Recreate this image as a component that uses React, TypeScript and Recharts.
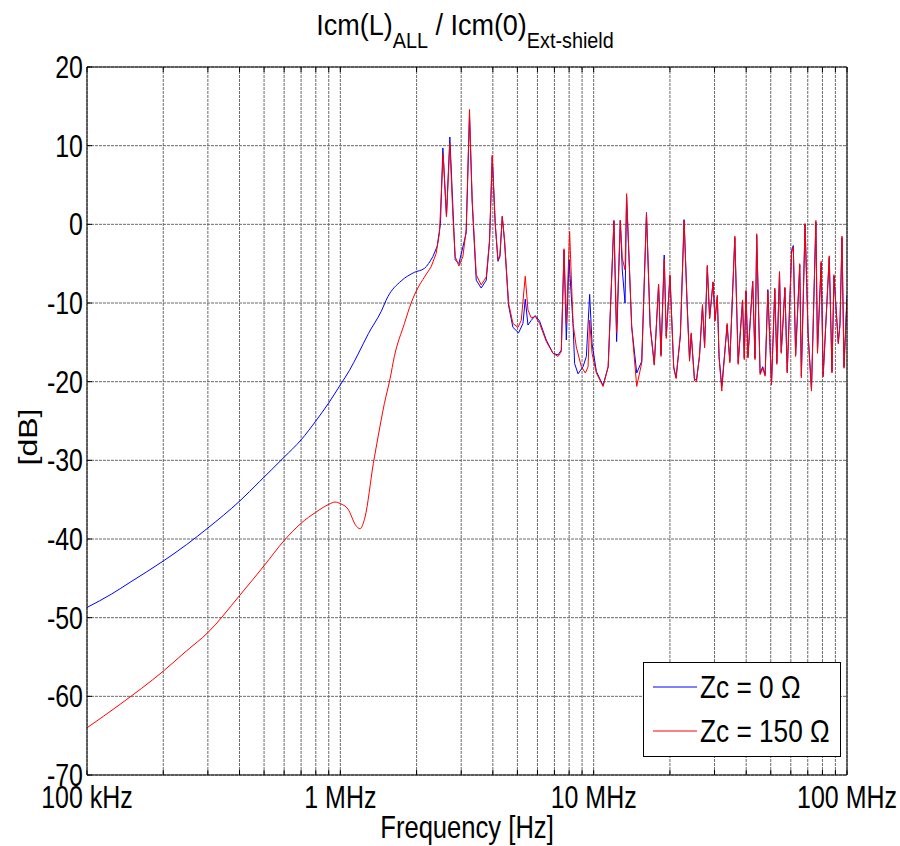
import { LineChart, Line, XAxis, YAxis, CartesianGrid, Legend } from "recharts";

// frequencies in MHz, levels in dB
const blueFreq = [
  0.1, 0.125, 0.148, 0.2, 0.2475, 0.3, 0.4, 0.48, 0.6, 0.7, 0.8, 0.9, 1.0, 1.085, 1.175, 1.29,
  1.448, 1.54, 1.738, 1.961, 2.148, 2.319, 2.411, 2.485, 2.539, 2.624, 2.706, 2.84, 2.938, 3.139,
  3.235, 3.315, 3.439, 3.599, 3.767, 3.881, 3.978, 4.088, 4.19, 4.266, 4.357, 4.449, 4.613, 4.801,
  5.053, 5.259, 5.37, 5.504, 5.672, 5.882, 6.117, 6.502, 6.91, 7.232, 7.452, 7.638, 7.799, 7.993,
  8.289, 8.411, 8.675, 9.08, 9.357, 9.643, 9.856, 10.25, 10.89, 11.41, 12.02, 12.32, 12.74, 12.97,
  13.3, 13.49, 14.13, 14.79, 15.48, 16.16, 16.71, 17.35, 18.04, 18.44, 18.99, 19.34, 20.01, 20.7,
  21.15, 21.99, 22.75, 23.38, 23.9, 24.27, 25.0, 25.46, 26.17, 26.89, 27.41, 28.09, 28.69, 29.59,
  30.14, 30.77, 31.26, 32.04, 33.64, 34.47, 36.08, 37.19, 38.7, 39.31, 39.92, 40.65, 42.44, 43.34,
  44.01, 45.4, 46.49, 47.51, 48.7, 50.35, 51.88, 52.84, 54.15, 55.0, 55.85, 56.87, 58.08, 60.45,
  61.39, 62.69, 65.08, 66.04, 68.31, 70.2, 72.41, 75.37, 76.47, 79.07, 80.52, 85.11, 87.24, 88.84,
  92.39, 93.83, 95.55, 97.3, 100,
];
const blueDb = [
  -48.7, -47.0, -45.5, -42.8, -40.7, -38.6, -35.2, -32.7, -29.6, -27.4, -25.0, -22.7, -20.4, -18.6, -16.5, -13.9,
  -11.1, -9.2, -7.2, -6.1, -5.6, -4.1, -2.8, 0.1, 9.7, 1.0, 11.1, -4.5, -5.0, -1.1,
  13.8, 2.8, -7.1, -8.1, -7.1, -2.2, 8.6, 0.0, -4.7, -4.1, 1.0, -2.2, -10.3, -13.1,
  -13.8, -12.6, -9.5, -12.8, -12.2, -11.6, -12.3, -14.7, -16.4, -16.6, -16.0, -3.3, -14.7, -4.5,
  -12.6, -17.7, -19.0, -18.1, -16.8, -8.9, -15.2, -18.7, -20.5, -18.1, 0.5, -14.9, 0.5, -5.8,
  -10.0, 3.5, -13.0, -18.9, -17.4, 1.5, -13.0, -17.8, -7.7, -16.6, -3.9, -14.2, -6.6, -18.1,
  -19.5, -14.2, 0.6, -10.0, -17.2, -14.0, -19.7, -19.8, -16.8, -10.4, -15.5, -5.4, -11.9, -7.4,
  -12.1, -9.2, -16.8, -20.6, -12.8, -17.4, -1.7, -17.6, -9.7, -17.0, -8.5, -16.8, -7.3, -17.0,
  -1.4, -18.9, -18.1, -19.1, -8.3, -20.2, -8.3, -17.6, -6.2, -16.2, -12.6, -8.1, -18.7, -3.3,
  -2.7, -16.6, -5.2, -19.3, 0.0, -13.8, -21.0, 0.3, -16.2, -4.9, -19.2, -4.2, -18.7, -6.6,
  -15.0, -12.6, -1.7, -18.1, -9.0,
];

const redFreq = [
  0.1, 0.1353, 0.2, 0.2475, 0.3, 0.4, 0.5, 0.6, 0.7, 0.8, 0.9, 0.9535, 1.0, 1.072, 1.153, 1.195, 1.252,
  1.35, 1.413, 1.492, 1.572, 1.634, 1.791, 1.903, 2.022, 2.148, 2.283, 2.389, 2.462, 2.546, 2.624,
  2.706, 2.782, 2.84, 2.938, 3.046, 3.139, 3.235, 3.315, 3.439, 3.599, 3.767, 3.881, 3.978, 4.088,
  4.19, 4.266, 4.357, 4.449, 4.613, 4.801, 5.025, 5.178, 5.37, 5.504, 5.672, 5.882, 6.117, 6.502,
  6.91, 7.232, 7.452, 7.638, 7.799, 8.036, 8.289, 8.542, 8.941, 9.273, 9.504, 9.643, 9.856, 10.25,
  10.89, 11.41, 12.02, 12.32, 12.74, 12.97, 13.3, 13.49, 14.13, 14.79, 15.48, 16.16, 16.71, 17.35,
  18.04, 18.44, 18.99, 19.34, 20.01, 20.7, 21.15, 21.99, 22.75, 23.38, 23.9, 24.27, 25.0, 25.46,
  26.17, 26.89, 27.41, 28.09, 28.69, 29.59, 30.14, 30.77, 31.26, 32.04, 33.64, 34.47, 36.08, 37.19,
  38.7, 39.31, 39.92, 40.65, 42.44, 43.34, 44.01, 45.4, 46.49, 47.51, 48.7, 50.35, 51.88, 52.84,
  54.15, 55.0, 55.85, 56.87, 58.08, 60.45, 61.39, 62.69, 65.08, 66.04, 68.31, 70.2, 72.41, 75.37,
  76.47, 79.07, 80.52, 85.11, 87.24, 88.84, 92.39, 93.83, 95.55, 97.3, 100,
];
const redDb = [
  -64.0, -61.0, -56.8, -54.2, -51.9, -47.2, -43.4, -40.2, -38.0, -36.6, -35.6, -35.3, -35.5, -36.2, -38.3, -38.7, -37.2,
  -30.4, -26.8, -22.8, -19.6, -16.8, -12.6, -10.0, -8.1, -6.7, -5.4, -3.7, -1.1, 9.0, 1.0,
  10.3, 1.0, -4.1, -5.3, -4.1, -0.7, 14.6, 3.1, -6.4, -7.7, -6.7, -2.0, 8.8, 0.1,
  -4.5, -3.9, 1.0, -2.0, -10.0, -12.6, -13.1, -12.2, -6.6, -10.9, -11.9, -11.7, -12.6, -14.9,
  -16.4, -16.8, -16.2, -3.1, -12.6, -0.9, -12.6, -15.6, -18.1, -18.9, -18.1, -12.2, -16.4, -18.9,
  -20.6, -18.1, 0.4, -13.8, 0.5, -4.3, -5.8, 3.9, -13.0, -20.6, -17.6, 1.4, -12.8, -17.9,
  -7.6, -16.8, -4.4, -14.5, -6.4, -18.3, -19.6, -14.0, 0.5, -10.2, -17.4, -13.8, -19.9, -20.0,
  -16.6, -10.2, -15.7, -5.2, -12.0, -7.3, -12.3, -9.0, -17.0, -21.2, -12.6, -17.6, -1.5, -17.8,
  -9.6, -17.2, -8.4, -17.0, -7.2, -17.2, -1.2, -19.1, -18.3, -19.3, -8.5, -20.4, -8.1, -17.8,
  -6.0, -16.4, -12.8, -8.0, -18.9, -3.6, -2.9, -16.8, -5.0, -19.5, 0.1, -14.0, -21.2, 0.5,
  -16.4, -4.7, -19.4, -4.0, -18.9, -6.4, -15.2, -12.8, -1.5, -18.3, -9.5,
];

// below these frequencies the curves are smooth, above they are resonant spikes
const blueSmoothEnd = 2.319;
const redSmoothEnd = 2.283;

const freqTicks = [
  0.1, 0.2, 0.3, 0.4, 0.5, 0.6, 0.7, 0.8, 0.9,
  1, 2, 3, 4, 5, 6, 7, 8, 9,
  10, 20, 30, 40, 50, 60, 70, 80, 90, 100,
];
const decades = [0.1, 1, 10, 100];
const decadeLabels = ["100 kHz", "1 MHz", "10 MHz", "100 MHz"];
const dbTicks = [-70, -60, -50, -40, -30, -20, -10, 0, 10, 20];

const seriesNames = ["Zc = 0 \u03A9", "Zc = 150 \u03A9"];

const blueData = blueFreq.map((f, i) => ({ f, db: blueDb[i] }));
const redData = redFreq.map((f, i) => ({ f, db: redDb[i] }));
const blueSmooth = blueData.filter((d) => d.f <= blueSmoothEnd);
const blueSpiky = blueData.filter((d) => d.f >= blueSmoothEnd);
const redSmooth = redData.filter((d) => d.f <= redSmoothEnd);
const redSpiky = redData.filter((d) => d.f >= redSmoothEnd);

const FONT = '"Liberation Sans", Arial, Helvetica, sans-serif';
const SQ = 0.78;

function FreqTick({ x, y, payload }: any) {
  const i = decades.findIndex((d) => Math.abs(d - payload.value) < 1e-9);
  if (i < 0) return <g />;
  return (
    <g transform={`translate(${x},${y + 33}) scale(${SQ},1)`}>
      <text textAnchor="middle" fontSize={32} fontFamily={FONT} fill="#000">
        {decadeLabels[i]}
      </text>
    </g>
  );
}

function DbTick({ x, y, payload }: any) {
  return (
    <g transform={`translate(${x},${y + 11}) scale(${SQ},1)`}>
      <text textAnchor="end" fontSize={32} fontFamily={FONT} fill="#000">
        {payload.value}
      </text>
    </g>
  );
}

const NoTick = () => <g />;

function XTitle({ viewBox }: any) {
  const cx = viewBox.x + viewBox.width / 2;
  return (
    <g transform={`translate(${cx},838) scale(0.8,1)`}>
      <text textAnchor="middle" fontSize={32} fontFamily={FONT} fill="#000">
        Frequency [Hz]
      </text>
    </g>
  );
}

function YTitle({ viewBox }: any) {
  const cy = viewBox.y + viewBox.height / 2 + 16;
  return (
    <g transform={`translate(37,${cy}) scale(${SQ},1) rotate(-90)`}>
      <text textAnchor="middle" fontSize={32} fontFamily={FONT} fill="#000">
        [dB]
      </text>
    </g>
  );
}

function LegendBox({ payload }: any) {
  const items = (payload ?? []).filter((it: any) => it.type !== "none");
  return (
    <svg width={199} height={96} style={{ display: "block" }}>
      <rect x={0.5} y={0.5} width={197} height={94} fill="#fff" stroke="#000" />
      {items.map((it: any, i: number) => (
        <g key={String(it.value)} transform={`translate(0,${25 + i * 44})`}>
          <line x1={10} x2={54} y1={0} y2={0} stroke={it.color} strokeWidth={1} />
          <g transform={`translate(57,11) scale(0.82,1)`}>
            <text fontSize={32} fontFamily={FONT} fill="#000">
              {it.value}
            </text>
          </g>
        </g>
      ))}
    </svg>
  );
}

function Title() {
  return (
    <svg width={900} height={60} style={{ position: "absolute", left: 0, top: 0 }}>
      <g transform="translate(465,35) scale(0.9,1)">
        <text textAnchor="middle" fontSize={30} fontFamily={FONT} fill="#000">
          Icm(L)
          <tspan fontSize={22} dy={13}>ALL</tspan>
          <tspan dy={-13}> / Icm(0)</tspan>
          <tspan fontSize={22} dy={13}>Ext-shield</tspan>
        </text>
      </g>
    </svg>
  );
}

const lineCommon = {
  dataKey: "db",
  strokeWidth: 1,
  dot: false,
  isAnimationActive: false,
};

export default function App() {
  return (
    <div style={{ position: "absolute", left: 0, top: 0, width: 900, height: 846, background: "#fff" }}>
      <LineChart width={900} height={846} margin={{ top: 66, right: 52, bottom: 0, left: 0 }}>
        <CartesianGrid stroke="#6a6a6a" strokeDasharray="3 1" />
        <XAxis
          dataKey="f"
          type="number"
          scale="log"
          domain={[0.1, 100]}
          allowDataOverflow
          ticks={freqTicks}
          interval={0}
          height={71}
          tickSize={-5}
          tickMargin={5}
          tickLine={{ stroke: "#000" }}
          tick={<FreqTick />}
          axisLine={{ stroke: "#000" }}
          label={<XTitle />}
        />
        <XAxis
          xAxisId="top"
          orientation="top"
          dataKey="f"
          type="number"
          scale="log"
          domain={[0.1, 100]}
          allowDataOverflow
          ticks={freqTicks}
          interval={0}
          height={1}
          tickSize={-5}
          tickLine={{ stroke: "#000" }}
          tick={<NoTick />}
          axisLine={{ stroke: "#000" }}
        />
        <YAxis
          type="number"
          domain={[-70, 20]}
          ticks={dbTicks}
          interval={0}
          width={87}
          tickSize={-5}
          tickMargin={9}
          tickLine={{ stroke: "#000" }}
          tick={<DbTick />}
          axisLine={{ stroke: "#000" }}
          label={<YTitle />}
        />
        <YAxis
          yAxisId="right"
          orientation="right"
          type="number"
          domain={[-70, 20]}
          ticks={dbTicks}
          interval={0}
          width={1}
          tickSize={-5}
          tickLine={{ stroke: "#000" }}
          tick={<NoTick />}
          axisLine={{ stroke: "#000" }}
        />
        <Line {...lineCommon} data={blueSmooth} name={seriesNames[0]} type="monotone" stroke="#0000ff" />
        <Line {...lineCommon} data={blueSpiky} name={seriesNames[0] + " "} legendType="none" type="linear" stroke="#0000ff" />
        <Line {...lineCommon} data={redSmooth} name={seriesNames[1]} type="monotone" stroke="#ff0000" />
        <Line {...lineCommon} data={redSpiky} name={seriesNames[1] + " "} legendType="none" type="linear" stroke="#ff0000" />
        <Legend
          layout="vertical"
          align="center"
          verticalAlign="middle"
          wrapperStyle={{ left: 643, top: 662, width: 199, height: 96 }}
          content={<LegendBox />}
        />
      </LineChart>
      <Title />
    </div>
  );
}
